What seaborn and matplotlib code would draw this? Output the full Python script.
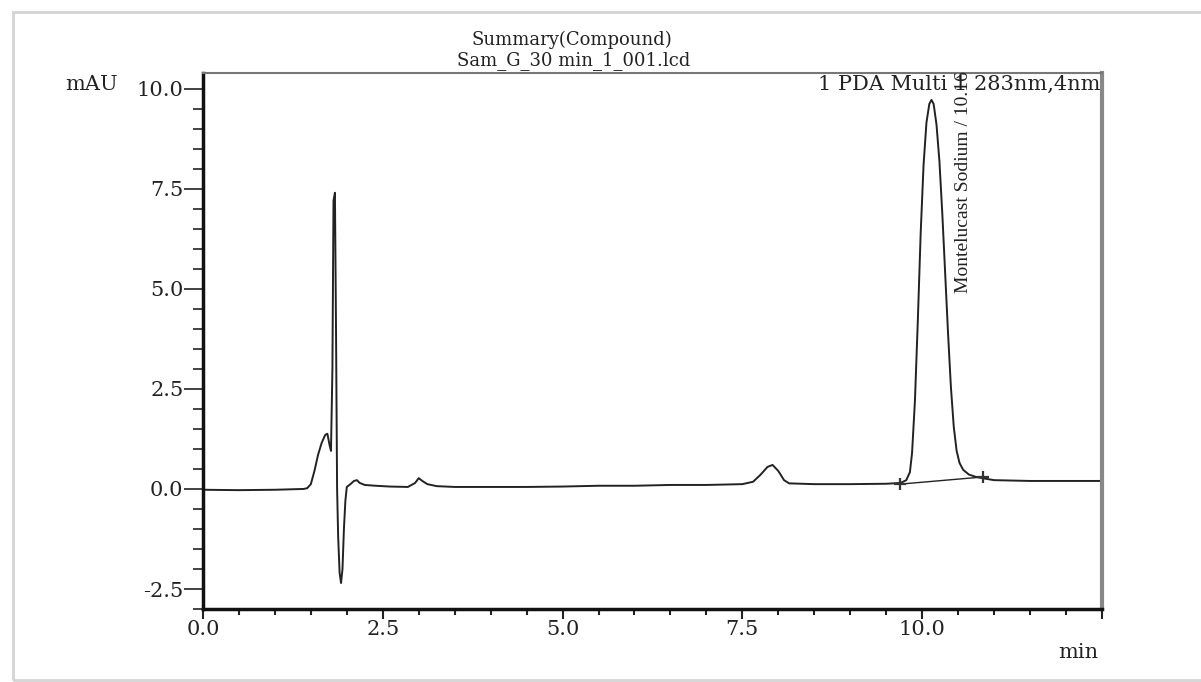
import pandas as pd
import matplotlib.pyplot as plt
import seaborn as sns
from matplotlib.patches import Rectangle
from matplotlib.ticker import MultipleLocator

# chromatogram trace (min, mAU)
time_min = [0.0, 0.5, 1.0, 1.4, 1.45, 1.50, 1.55, 1.60, 1.65, 1.70, 1.73, 1.76, 1.78,
            1.80, 1.815, 1.835, 1.85, 1.865, 1.88, 1.90, 1.92, 1.94, 1.96, 1.98, 2.00,
            2.05, 2.10, 2.14, 2.18, 2.25, 2.4, 2.6, 2.85, 2.95, 3.0, 3.05, 3.12, 3.25,
            3.5, 4.0, 4.5, 5.0, 5.5, 6.0, 6.5, 7.0, 7.5, 7.65, 7.75, 7.85, 7.92, 8.0,
            8.08, 8.15, 8.5, 9.0, 9.5, 9.7, 9.78, 9.83, 9.86, 9.90, 9.94, 9.98, 10.02,
            10.06, 10.10, 10.13, 10.16, 10.20, 10.24, 10.28, 10.32, 10.36, 10.40, 10.44,
            10.48, 10.52, 10.57, 10.65, 10.75, 10.9, 11.0, 11.5, 12.0, 12.5]
signal_mau = [-0.02, -0.03, -0.02, 0.0, 0.02, 0.12, 0.45, 0.85, 1.15, 1.35, 1.38, 1.1, 0.95,
              3.0, 7.2, 7.4, 4.0, 0.0, -1.2, -2.1, -2.35, -2.0, -1.0, -0.3, 0.05,
              0.12, 0.2, 0.22, 0.15, 0.1, 0.08, 0.06, 0.05, 0.15, 0.27, 0.2, 0.12, 0.07,
              0.05, 0.05, 0.05, 0.06, 0.08, 0.08, 0.1, 0.1, 0.12, 0.18, 0.35, 0.55, 0.6, 0.45,
              0.22, 0.14, 0.12, 0.12, 0.13, 0.15, 0.22, 0.42, 0.9, 2.2, 4.2, 6.4, 8.1,
              9.15, 9.62, 9.72, 9.62, 9.1, 8.2, 6.9, 5.4, 3.9, 2.55, 1.55,
              0.95, 0.65, 0.48, 0.36, 0.3, 0.25, 0.22, 0.2, 0.2, 0.2]

# integration baseline of the main peak
base_time = [9.69, 10.85]
base_mau = [0.12, 0.30]

peak_name = 'Montelucast Sodium / 10.16'
peak_time = 10.58
peak_label_y = 4.9

x_ticks = [0.0, 2.5, 5.0, 7.5, 10.0, 12.5]
x_tick_labels = ['0.0', '2.5', '5.0', '7.5', '10.0', '']
y_ticks = [-2.5, 0.0, 2.5, 5.0, 7.5, 10.0]

df = pd.DataFrame({'time': time_min, 'mAU': signal_mau})

sns.set_style("ticks")
plt.rcParams['font.family'] = ['DejaVu Serif', 'DejaVu Sans']

fig = plt.figure(figsize=(12.01, 6.82), dpi=100)
ax = fig.add_axes([0.169, 0.107, 0.7485, 0.7864])

sns.lineplot(data=df, x='time', y='mAU', ax=ax, color='#222222', linewidth=1.4)
ax.plot(base_time, base_mau, color='#222222', linewidth=1.0)
ax.plot(base_time, base_mau, linestyle='none', marker='+', markersize=9,
        markeredgewidth=1.6, color='#333333')

ax.set_xlim(0, 12.5)
ax.set_ylim(-3.0, 10.4)
ax.set_xticks(x_ticks)
ax.set_xticklabels(x_tick_labels)
ax.set_yticks(y_ticks)
ax.set_yticklabels([f'{v:.1f}' for v in y_ticks])
ax.xaxis.set_minor_locator(MultipleLocator(0.5))
ax.yaxis.set_minor_locator(MultipleLocator(0.5))
ax.set_xlabel('')
ax.set_ylabel('')

ax.tick_params(axis='y', which='major', direction='out', length=14, width=1.2,
               labelsize=15, pad=0, colors='#222222')
ax.tick_params(axis='y', which='minor', direction='out', length=7, width=1.2, colors='#222222')
ax.tick_params(axis='x', which='major', direction='out', length=7, width=1.5,
               labelsize=15, pad=1, colors='#222222')
ax.tick_params(axis='x', which='minor', direction='out', length=4, width=1.5, colors='#222222')

for side in ['left', 'bottom']:
    ax.spines[side].set_color('#111111')
    ax.spines[side].set_linewidth(2.5)
ax.spines['top'].set_color('#777777')
ax.spines['top'].set_linewidth(1.5)
ax.spines['right'].set_color('#888888')
ax.spines['right'].set_linewidth(3)

# header text
fig.text(572 / 1201, 1 - 40 / 682, 'Summary(Compound)', ha='center', va='center',
         fontsize=13, color='#222222')
fig.text(574 / 1201, 1 - 61 / 682, 'Sam_G_30 min_1_001.lcd', ha='center', va='center',
         fontsize=13, color='#222222')
ax.text(0.998, 0.995, '1 PDA Multi 1 283nm,4nm', transform=ax.transAxes,
        ha='right', va='top', fontsize=15, color='#222222')
fig.text(118 / 1201, 1 - 84 / 682, 'mAU', ha='right', va='center', fontsize=15, color='#222222')
fig.text(1098 / 1201, 1 - 652 / 682, 'min', ha='right', va='center', fontsize=15, color='#222222')

ax.text(peak_time, peak_label_y, peak_name, rotation=90, ha='center', va='bottom',
        fontsize=14, family=['Liberation Serif', 'DejaVu Serif'], color='#222222',
        clip_on=False)

# light frame around the picture
fig.patches.append(Rectangle((13 / 1201, 2 / 682), 1.2, 1 - 14 / 682, transform=fig.transFigure,
                             fill=False, edgecolor='#d4d4d4', linewidth=2))

fig.savefig('out.png', dpi=100)
